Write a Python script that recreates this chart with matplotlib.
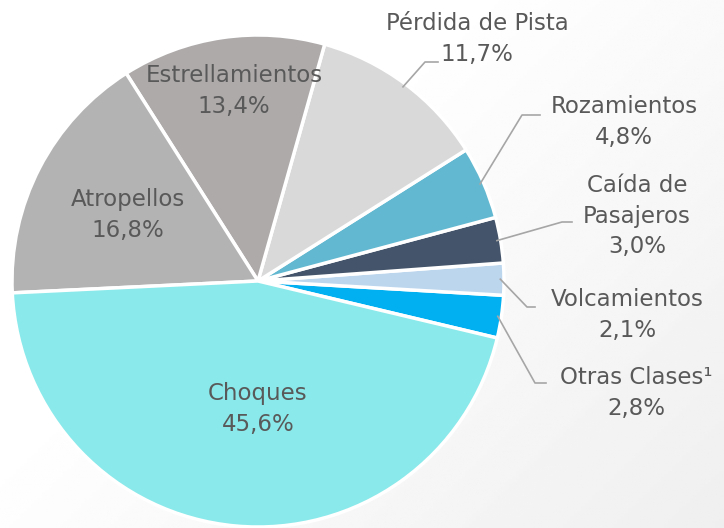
import numpy as np
import matplotlib.pyplot as plt

# Datos (orden horario en pantalla empezando en "Otras Clases")
categorias = ["Otras Clases\u00b9", "Volcamientos", "Caída de\nPasajeros", "Rozamientos",
              "Pérdida de Pista", "Estrellamientos", "Atropellos", "Choques"]
porcentajes = [2.8, 2.1, 3.0, 4.8, 11.7, 13.4, 16.8, 45.6]
colores = ["#00b0f0", "#bcd6ee", "#44546a", "#62b8d0",
           "#d9d9d9", "#aeaaaa", "#b3b3b3", "#8ae9ea"]

fig = plt.figure(figsize=(7.24, 5.28), dpi=100)
ax = fig.add_axes([0, 0, 1, 1])

# fondo con degradado suave
yy, xx = np.mgrid[0:1:200j, 0:1:200j]
fondo = 1.0 - 0.07 * np.clip(xx * 0.8 + yy * 0.6 - 0.5, 0, 1)
ax.imshow(fondo, cmap="gray", vmin=0, vmax=1, extent=[0, 724, 528, 0],
          aspect="auto", zorder=0)

centro = (258, 281)
radio = 246
inicio = 13.4  # grados (eje y invertido -> sentido horario en pantalla)

wedges, _ = ax.pie(porcentajes, colors=colores, center=centro, radius=radio,
                   startangle=inicio, counterclock=False, frame=True,
                   wedgeprops=dict(edgecolor="white", linewidth=2.5))
ax.set_xlim(0, 724)
ax.set_ylim(528, 0)
ax.set_aspect("equal")
ax.axis("off")

gris = "#595959"
fs = 16.5
ls = 1.42
etiqueta = [f"{c}\n{p:.1f}%".replace(".", ",") for c, p in zip(categorias, porcentajes)]

# etiquetas dentro del gráfico
dentro = {5: (234, 91), 6: (128, 215), 7: (258, 409)}
for i, (x, y) in dentro.items():
    ax.text(x, y, etiqueta[i], ha="center", va="center", color=gris,
            fontsize=fs, linespacing=ls, zorder=5)

# etiquetas externas con línea guía: (texto, codo, fin horizontal)
fuera = {
    4: ((477, 39), (425, 62), (438, 62)),
    3: ((624, 122), (522, 115), (540, 115)),
    2: ((637, 216), (562, 222), (572, 222)),
    1: ((627, 315), (527, 307), (535, 307)),
    0: ((636, 393), (535, 383), (546, 383)),
}
for i, (pos_txt, codo, fin) in fuera.items():
    w = wedges[i]
    ang = np.deg2rad((w.theta1 + w.theta2) / 2)
    r0 = radio * 0.985
    x0 = centro[0] + r0 * np.cos(ang)
    y0 = centro[1] + r0 * np.sin(ang)
    ax.plot([x0, codo[0], fin[0]], [y0, codo[1], fin[1]], color="#a6a6a6",
            lw=1.2, zorder=4)
    ax.text(pos_txt[0], pos_txt[1], etiqueta[i],
            ha="center", va="center", color=gris, fontsize=fs,
            linespacing=ls, zorder=5)

fig.savefig("out.png", dpi=100)
